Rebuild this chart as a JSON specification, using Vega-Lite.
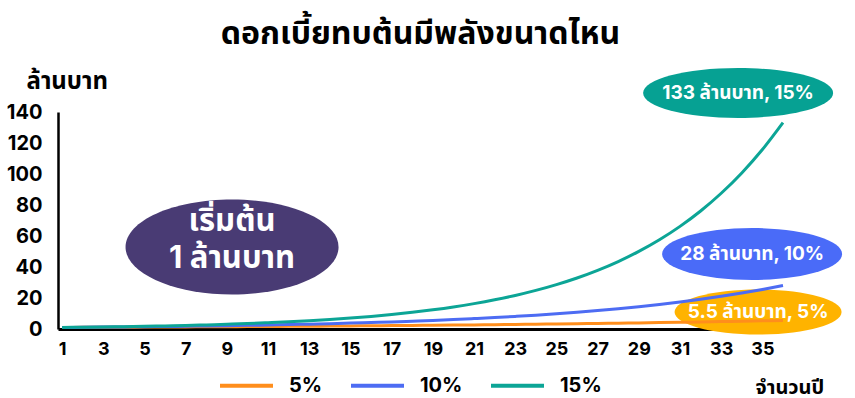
{
  "$schema": "https://vega.github.io/schema/vega-lite/v6.json",
  "width": 725,
  "height": 217,
  "autosize": "none",
  "padding": {"left": 58, "top": 112, "right": 72, "bottom": 69},
  "background": "white",
  "config": {
    "view": {"stroke": null},
    "font": "Inter, Noto Sans Thai, Noto Sans, sans-serif",
    "text": {"font": "Inter, Noto Sans Thai, Noto Sans, sans-serif"},
    "axisX": {
      "ticks": false, "grid": false, "domainColor": "black", "domainWidth": 3,
      "labelFontSize": 18, "labelFontWeight": "bold", "labelColor": "black", "labelPadding": 11,
      "labelFlush": false, "labelOverlap": false,
      "titleFontSize": 20, "titleFontWeight": "bold", "titleColor": "black",
      "titleX": 697, "titleY": 64, "titleAlign": "left", "titleBaseline": "alphabetic"
    },
    "axisY": {
      "ticks": false, "grid": false, "domainColor": "black", "domainWidth": 2.5,
      "labelFontSize": 20, "labelFontWeight": "bold", "labelColor": "black", "labelPadding": 16,
      "labelFlush": false, "labelOverlap": false,
      "titleFontSize": 24, "titleFontWeight": "bold", "titleColor": "black",
      "titleAngle": 0, "titleX": -32, "titleY": -24, "titleAlign": "left", "titleBaseline": "alphabetic"
    }
  },
  "title": {
    "text": "ดอกเบี้ยทบต้นมีพลังขนาดไหน",
    "fontSize": 32,
    "fontWeight": "bold",
    "color": "black",
    "anchor": "middle",
    "frame": "group",
    "offset": 17
  },
  "datasets": {
    "growth": [
      {"year": 1, "p5": 1, "p10": 1, "p15": 1},
      {"year": 2, "p5": 1.05, "p10": 1.1, "p15": 1.15},
      {"year": 3, "p5": 1.10, "p10": 1.21, "p15": 1.32},
      {"year": 4, "p5": 1.16, "p10": 1.33, "p15": 1.52},
      {"year": 5, "p5": 1.22, "p10": 1.46, "p15": 1.75},
      {"year": 6, "p5": 1.28, "p10": 1.61, "p15": 2.01},
      {"year": 7, "p5": 1.34, "p10": 1.77, "p15": 2.31},
      {"year": 8, "p5": 1.41, "p10": 1.95, "p15": 2.66},
      {"year": 9, "p5": 1.48, "p10": 2.14, "p15": 3.06},
      {"year": 10, "p5": 1.55, "p10": 2.36, "p15": 3.52},
      {"year": 11, "p5": 1.63, "p10": 2.59, "p15": 4.05},
      {"year": 12, "p5": 1.71, "p10": 2.85, "p15": 4.65},
      {"year": 13, "p5": 1.80, "p10": 3.14, "p15": 5.35},
      {"year": 14, "p5": 1.89, "p10": 3.45, "p15": 6.15},
      {"year": 15, "p5": 1.98, "p10": 3.80, "p15": 7.08},
      {"year": 16, "p5": 2.08, "p10": 4.18, "p15": 8.14},
      {"year": 17, "p5": 2.18, "p10": 4.59, "p15": 9.36},
      {"year": 18, "p5": 2.29, "p10": 5.05, "p15": 10.76},
      {"year": 19, "p5": 2.41, "p10": 5.56, "p15": 12.38},
      {"year": 20, "p5": 2.53, "p10": 6.12, "p15": 14.23},
      {"year": 21, "p5": 2.65, "p10": 6.73, "p15": 16.37},
      {"year": 22, "p5": 2.79, "p10": 7.40, "p15": 18.82},
      {"year": 23, "p5": 2.93, "p10": 8.14, "p15": 21.64},
      {"year": 24, "p5": 3.07, "p10": 8.95, "p15": 24.89},
      {"year": 25, "p5": 3.23, "p10": 9.85, "p15": 28.63},
      {"year": 26, "p5": 3.39, "p10": 10.83, "p15": 32.92},
      {"year": 27, "p5": 3.56, "p10": 11.92, "p15": 37.86},
      {"year": 28, "p5": 3.73, "p10": 13.11, "p15": 43.54},
      {"year": 29, "p5": 3.92, "p10": 14.42, "p15": 50.07},
      {"year": 30, "p5": 4.12, "p10": 15.86, "p15": 57.58},
      {"year": 31, "p5": 4.32, "p10": 17.45, "p15": 66.21},
      {"year": 32, "p5": 4.54, "p10": 19.19, "p15": 76.14},
      {"year": 33, "p5": 4.76, "p10": 21.11, "p15": 87.57},
      {"year": 34, "p5": 5.00, "p10": 23.23, "p15": 100.70},
      {"year": 35, "p5": 5.25, "p10": 25.55, "p15": 115.80},
      {"year": 36, "p5": 5.52, "p10": 28.10, "p15": 133.18}
    ],
    "notes": [
      {"label": "133 ล้านบาท, 15%", "year": 33.82, "value": 152.3},
      {"label": "28 ล้านบาท, 10%", "year": 34.5, "value": 48.4},
      {"label": "5.5 ล้านบาท, 5%", "year": 34.79, "value": 11.0},
      {"label": "เริ่มต้น\n1 ล้านบาท", "year": 9.25, "value": 52.9}
    ]
  },
  "layer": [
    {
      "data": {"name": "notes"},
      "mark": {"type": "point", "filled": true, "opacity": 1, "strokeWidth": 0},
      "encoding": {
        "x": {"field": "year", "type": "quantitative", "scale": {"domain": [0.8, 36], "nice": false, "zero": false},
          "axis": {"values": [1, 3, 5, 7, 9, 11, 13, 15, 17, 19, 21, 23, 25, 27, 29, 31, 33, 35], "tickCount": 40, "title": "จำนวนปี", "labelOverlap": false}},
        "y": {"field": "value", "type": "quantitative", "scale": {"domain": [0, 140], "nice": false},
          "axis": {"values": [0, 20, 40, 60, 80, 100, 120, 140], "tickCount": 20, "title": "ล้านบาท", "labelOverlap": false}},
        "fill": {"field": "label", "type": "nominal", "legend": null,
          "scale": {"domain": ["133 ล้านบาท, 15%", "28 ล้านบาท, 10%", "5.5 ล้านบาท, 5%", "เริ่มต้น\n1 ล้านบาท"],
                    "range": ["#06A193", "#4A6BF8", "#FFB300", "#493B74"]}},
        "size": {"field": "label", "type": "nominal", "legend": null,
          "scale": {"type": "ordinal", "domain": ["133 ล้านบาท, 15%", "28 ล้านบาท, 10%", "5.5 ล้านบาท, 5%", "เริ่มต้น\n1 ล้านบาท"],
                    "range": [36100, 32400, 27889, 45369]}},
        "shape": {"field": "label", "type": "nominal", "legend": null,
          "scale": {"domain": ["133 ล้านบาท, 15%", "28 ล้านบาท, 10%", "5.5 ล้านบาท, 5%", "เริ่มต้น\n1 ล้านบาท"],
                    "range": [
                      "M-1,0C-1,-0.145,-0.552,-0.263,0,-0.263C0.552,-0.263,1,-0.145,1,0C1,0.145,0.552,0.263,0,0.263C-0.552,0.263,-1,0.145,-1,0Z",
                      "M-1,0C-1,-0.160,-0.552,-0.289,0,-0.289C0.552,-0.289,1,-0.160,1,0C1,0.160,0.552,0.289,0,0.289C-0.552,0.289,-1,0.160,-1,0Z",
                      "M-1,0C-1,-0.149,-0.552,-0.270,0,-0.270C0.552,-0.270,1,-0.149,1,0C1,0.149,0.552,0.270,0,0.270C-0.552,0.270,-1,0.149,-1,0Z",
                      "M-1,0C-1,-0.246,-0.552,-0.446,0,-0.446C0.552,-0.446,1,-0.246,1,0C1,0.246,0.552,0.446,0,0.446C-0.552,0.446,-1,0.246,-1,0Z"
                    ]}}
      }
    },
    {
      "data": {"name": "growth"},
      "transform": [
        {"fold": ["p5", "p10", "p15"], "as": ["key", "value"]},
        {"lookup": "key", "from": {"data": {"values": [{"key": "p5", "rate": "5%"}, {"key": "p10", "rate": "10%"}, {"key": "p15", "rate": "15%"}]}, "key": "key", "fields": ["rate"]}}
      ],
      "mark": {"type": "line", "strokeWidth": 3, "interpolate": "monotone"},
      "encoding": {
        "x": {"field": "year", "type": "quantitative"},
        "y": {"field": "value", "type": "quantitative"},
        "stroke": {"field": "rate", "type": "nominal",
          "scale": {"domain": ["5%", "10%", "15%"], "range": ["#FF8E1C", "#4D6CF3", "#0CA596"]},
          "legend": {
            "title": null, "orient": "none", "legendX": 160, "legendY": 245, "direction": "horizontal",
            "symbolType": "stroke", "symbolSize": 2809, "symbolStrokeWidth": 4,
            "labelFontSize": 20, "labelFontWeight": "bold", "labelColor": "black", "labelOffset": 14,
            "columnPadding": 20
          }}
      }
    },
    {
      "data": {"name": "notes"},
      "transform": [{"filter": {"field": "label", "oneOf": ["133 ล้านบาท, 15%", "28 ล้านบาท, 10%", "5.5 ล้านบาท, 5%"]}}],
      "mark": {"type": "text", "color": "white", "fontSize": 19, "fontWeight": "bold", "align": "center", "baseline": "middle"},
      "encoding": {
        "x": {"field": "year", "type": "quantitative"},
        "y": {"field": "value", "type": "quantitative"},
        "text": {"field": "label"}
      }
    },
    {
      "data": {"name": "notes"},
      "transform": [{"filter": {"field": "label", "oneOf": ["เริ่มต้น\n1 ล้านบาท"]}}],
      "mark": {"type": "text", "color": "white", "fontSize": 31, "fontWeight": "bold", "align": "center", "baseline": "middle", "lineBreak": "\n", "lineHeight": 37, "dy": -25},
      "encoding": {
        "x": {"field": "year", "type": "quantitative"},
        "y": {"field": "value", "type": "quantitative"},
        "text": {"field": "label"}
      }
    }
  ]
}
